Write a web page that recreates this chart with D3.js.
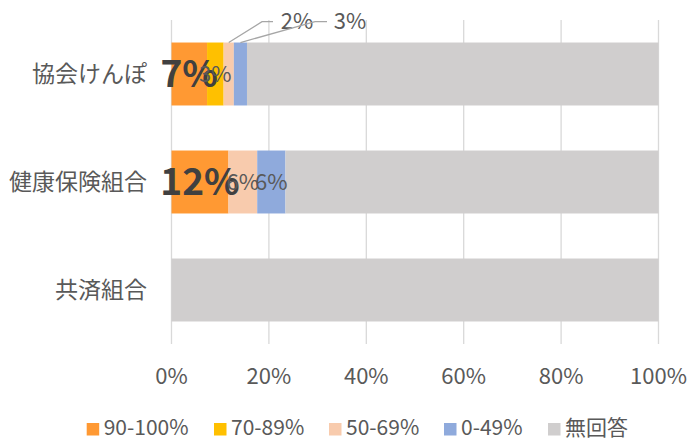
<!DOCTYPE html>
<html><head><meta charset="utf-8">
<script src="https://cdn.jsdelivr.net/npm/d3@7"></script>
<style>body{margin:0;background:#fff}svg{display:block}text{font-family:"Noto Sans CJK JP","Noto Sans",sans-serif}</style>
</head><body><svg id="c" width="688" height="438"></svg>
<script>
const categories = ['協会けんぽ','健康保険組合','共済組合'];
const seriesNames = ['90-100%','70-89%','50-69%','0-49%','無回答'];
const s90 = [7.3, 11.7, 0];
const s70 = [3.4, 0, 0];
const s50 = [2.1, 5.9, 0];
const s0 = [2.7, 5.8, 0];
const sNone = [84.5, 76.6, 100];
const colors = ['#FF9933','#FFC000','#F8CBAD','#8FAADC','#D0CECE'];
const ticks = [0,20,40,60,80,100];

const svg = d3.select('#c');
const x = d3.scaleLinear().domain([0,100]).range([171.5,658.5]);
const y = d3.scaleBand().domain(categories).range([20,344]).paddingInner(0.417).paddingOuter(0.2085);

// gridlines
svg.append('g').selectAll('line').data(ticks).join('line')
  .attr('x1',d=>x(d)).attr('x2',d=>x(d)).attr('y1',20).attr('y2',344)
  .attr('stroke','#d9d9d9').attr('stroke-width',1.3);

const series = [s90,s70,s50,s0,sNone];
const rows = categories.map((c,i)=>{const o={cat:c}; seriesNames.forEach((n,j)=>o[n]=series[j][i]); return o;});
const stack = d3.stack().keys(seriesNames)(rows);

stack.forEach((layer,j)=>{
  svg.append('g').attr('fill',colors[j]).selectAll('rect').data(layer).join('rect')
    .attr('x',d=>x(d[0])).attr('width',d=>x(d[1])-x(d[0]))
    .attr('y',d=>y(d.data.cat)).attr('height',y.bandwidth());
});

// data labels
const lab = svg.append('g');
stack.forEach((layer,j)=>{
  if(j===4) return;
  layer.forEach((d,i)=>{
    const v = d[1]-d[0];
    if(v<=0) return;
    const cy = y(d.data.cat)+y.bandwidth()/2;
    const txt = Math.round(v)+'%';
    const callout = (i===0 && (j===2||j===3));
    if(callout){
      const lx = j===2 ? 297 : 350;
      const ex = j===2 ? 273 : 327;
      const mx = j===2 ? 262 : 315;
      const sx = (x(d[0])+x(d[1]))/2;
      lab.append('polyline').attr('points',[[sx,y(d.data.cat)],[mx,21.7],[ex,21.7]].map(p=>p.join(',')).join(' '))
        .attr('fill','none').attr('stroke','#a6a6a6').attr('stroke-width',1.3);
      lab.append('text').attr('x',lx).attr('y',29).attr('text-anchor','middle')
        .attr('font-size',22).attr('fill','#595959').text(txt);
    } else {
      const big = j===0;
      lab.append('text').attr('x',(x(d[0])+x(d[1]))/2).attr('y',cy).attr('dy','0.36em')
        .attr('text-anchor','middle').attr('font-size',big?37:22).attr('font-weight',big?'bold':'normal')
        .attr('fill',big?'#404040':'#595959').text(txt);
    }
  });
});

// category labels
svg.append('g').selectAll('text').data(categories).join('text')
  .attr('x',147).attr('y',d=>y(d)+y.bandwidth()/2).attr('dy','0.36em')
  .attr('text-anchor','end').attr('font-size',23).attr('fill','#595959').text(d=>d);

// tick labels
svg.append('g').selectAll('text').data(ticks).join('text')
  .attr('x',d=>x(d)).attr('y',384).attr('text-anchor','middle')
  .attr('font-size',22).attr('fill','#595959').text(d=>d+'%');

// legend
const lg = svg.append('g');
const itemX = [86.7,214,329,444,548];
seriesNames.forEach((n,j)=>{
  lg.append('rect').attr('x',itemX[j]).attr('y',423).attr('width',12.5).attr('height',12.5).attr('fill',colors[j]);
  lg.append('text').attr('x',itemX[j]+17).attr('y',435).attr('font-size',21).attr('fill','#595959').text(n);
});
</script></body></html>
